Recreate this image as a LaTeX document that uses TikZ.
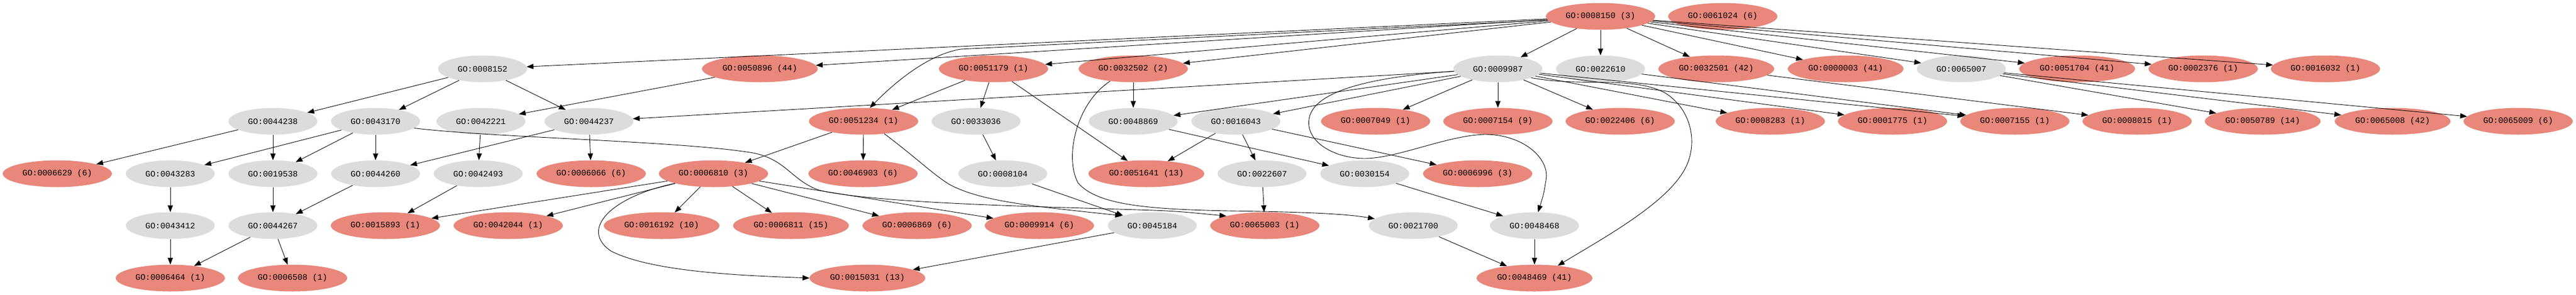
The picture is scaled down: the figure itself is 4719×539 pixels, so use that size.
\documentclass[tikz,border=0pt]{standalone}
\usepackage{fontspec}
\setmonofont{Liberation Mono}
\usetikzlibrary{shapes.geometric,arrows.meta}
\definecolor{gofill}{RGB}{220,220,220}
\definecolor{sigfill}{RGB}{232,135,122}
\begin{document}
\begin{tikzpicture}[x=1pt,y=-1pt,
  base/.style={ellipse,inner sep=0pt,minimum height=49pt,draw=none,
    font=\ttfamily\fontsize{15.2}{18}\selectfont},
  gnode/.style={base,fill=gofill,minimum width=163pt},
  snode/.style={base,fill=sigfill,minimum width=200pt},
  wnode/.style={base,fill=sigfill,minimum width=212pt},
  edge/.style={draw=black,line width=0.9pt,-{Triangle[length=12.5pt,width=9.5pt]}}]
\useasboundingbox (0,0) rectangle (4719,539);
% row 0
\node[snode] (n0008150) at (2932,30) {GO:0008150 (3)};
\node[snode] (n0061024) at (3156,30) {GO:0061024 (6)};
% row 1
\node[gnode] (n0008152) at (884,126) {GO:0008152};
\node[wnode] (n0050896) at (1392,126) {GO:0050896 (44)};
\node[snode] (n0051179) at (1820,126) {GO:0051179 (1)};
\node[snode] (n0032502) at (2076,126) {GO:0032502 (2)};
\node[gnode] (n0009987) at (2744,126) {GO:0009987};
\node[gnode] (n0022610) at (2932,126) {GO:0022610};
\node[wnode] (n0032501) at (3144,126) {GO:0032501 (42)};
\node[wnode] (n0000003) at (3381,126) {GO:0000003 (41)};
\node[gnode] (n0065007) at (3593,126) {GO:0065007};
\node[wnode] (n0051704) at (3805,126) {GO:0051704 (41)};
\node[snode] (n0002376) at (4036,126) {GO:0002376 (1)};
\node[snode] (n0016032) at (4260,126) {GO:0016032 (1)};
% row 2
\node[gnode] (n0044238) at (500,222) {GO:0044238};
\node[gnode] (n0043170) at (688,222) {GO:0043170};
\node[gnode] (n0042221) at (881,222) {GO:0042221};
\node[gnode] (n0044237) at (1079,222) {GO:0044237};
\node[snode] (n0051234) at (1582,222) {GO:0051234 (1)};
\node[gnode] (n0033036) at (1788,222) {GO:0033036};
\node[gnode] (n0048869) at (2076,222) {GO:0048869};
\node[gnode] (n0016043) at (2264,222) {GO:0016043};
\node[snode] (n0007049) at (2520,222) {GO:0007049 (1)};
\node[snode] (n0007154) at (2744,222) {GO:0007154 (9)};
\node[snode] (n0022406) at (2968,222) {GO:0022406 (6)};
\node[snode] (n0008283) at (3243,222) {GO:0008283 (1)};
\node[snode] (n0001775) at (3467,222) {GO:0001775 (1)};
\node[snode] (n0007155) at (3691,222) {GO:0007155 (1)};
\node[snode] (n0008015) at (3915,222) {GO:0008015 (1)};
\node[wnode] (n0050789) at (4145,222) {GO:0050789 (14)};
\node[wnode] (n0065008) at (4383,222) {GO:0065008 (42)};
\node[snode] (n0065009) at (4613,222) {GO:0065009 (6)};
% row 3
\node[snode] (n0006629) at (105,318) {GO:0006629 (6)};
\node[gnode] (n0043283) at (312,318) {GO:0043283};
\node[gnode] (n0019538) at (500,318) {GO:0019538};
\node[gnode] (n0044260) at (688,318) {GO:0044260};
\node[gnode] (n0042493) at (876,318) {GO:0042493};
\node[snode] (n0006066) at (1083,318) {GO:0006066 (6)};
\node[snode] (n0006810) at (1307,318) {GO:0006810 (3)};
\node[snode] (n0046903) at (1581,318) {GO:0046903 (6)};
\node[gnode] (n0008104) at (1837,318) {GO:0008104};
\node[wnode] (n0051641) at (2100,318) {GO:0051641 (13)};
\node[gnode] (n0022607) at (2312,318) {GO:0022607};
\node[gnode] (n0030154) at (2500,318) {GO:0030154};
\node[snode] (n0006996) at (2707,318) {GO:0006996 (3)};
% row 4
\node[gnode] (n0043412) at (312,413) {GO:0043412};
\node[gnode] (n0044267) at (500,413) {GO:0044267};
\node[snode] (n0015893) at (706,413) {GO:0015893 (1)};
\node[snode] (n0042044) at (931,413) {GO:0042044 (1)};
\node[wnode] (n0016192) at (1212,413) {GO:0016192 (10)};
\node[wnode] (n0006811) at (1449,413) {GO:0006811 (15)};
\node[snode] (n0006869) at (1680,413) {GO:0006869 (6)};
\node[snode] (n0009914) at (1904,413) {GO:0009914 (6)};
\node[gnode] (n0045184) at (2111,413) {GO:0045184};
\node[snode] (n0065003) at (2317,413) {GO:0065003 (1)};
\node[gnode] (n0021700) at (2589,413) {GO:0021700};
\node[gnode] (n0048468) at (2811,413) {GO:0048468};
% row 5
\node[snode] (n0006464) at (312,509) {GO:0006464 (1)};
\node[snode] (n0006508) at (536,509) {GO:0006508 (1)};
\node[wnode] (n0015031) at (1589,509) {GO:0015031 (13)};
\node[wnode] (n0048469) at (2811,509) {GO:0048469 (41)};

% edges from root
\draw[edge] (n0008150) -- (n0008152);
\draw[edge] (n0008150) -- (n0050896);
\draw[edge] (n0008150.184) -- (1760,90) .. controls (1700,100) and (1640,150) .. (n0051234.65);
\draw[edge] (n0008150) -- (n0051179);
\draw[edge] (n0008150) -- (n0032502);
\draw[edge] (n0008150) -- (n0009987);
\draw[edge] (n0008150) -- (n0022610);
\draw[edge] (n0008150) -- (n0032501);
\draw[edge] (n0008150) -- (n0000003);
\draw[edge] (n0008150) -- (n0065007);
\draw[edge] (n0008150) -- (n0051704);
\draw[edge] (n0008150) -- (n0002376);
\draw[edge] (n0008150) -- (n0016032);
% row 1 sources
\draw[edge] (n0008152) -- (n0044238);
\draw[edge] (n0008152) -- (n0043170);
\draw[edge] (n0008152) -- (n0044237);
\draw[edge] (n0050896) -- (n0042221);
\draw[edge] (n0051179) -- (n0051234);
\draw[edge] (n0051179) -- (n0033036);
\draw[edge] (n0051179) -- (n0051641);
\draw[edge] (n0032502) -- (n0048869);
\draw[edge] (n0032502.208) .. controls (1970,190) and (1950,290) .. (1975,335)
  .. controls (2010,375) and (2100,383) .. (2250,386)
  .. controls (2400,388) and (2470,392) .. (n0021700.170);
\draw[edge] (n0009987) -- (n0044237);
\draw[edge] (n0009987) -- (n0048869);
\draw[edge] (n0009987) -- (n0016043);
\draw[edge] (n0009987) -- (n0007049);
\draw[edge] (n0009987) -- (n0007154);
\draw[edge] (n0009987) -- (n0022406);
\draw[edge] (n0009987) -- (n0008283);
\draw[edge] (n0009987) -- (n0001775);
\draw[edge] (n0009987) -- (n0007155);
\draw[edge] (n0009987.183) .. controls (2560,138) and (2420,155) .. (2400,210)
  .. controls (2385,255) and (2440,290) .. (2500,290)
  .. controls (2560,290) and (2650,248) .. (2720,246)
  .. controls (2790,246) and (2840,290) .. (2832,330)
  .. controls (2828,355) .. (n0048468.75);
\draw[edge] (n0009987.-15) .. controls (2900,160) and (2990,138) .. (3050,170)
  .. controls (3100,200) and (3115,270) .. (3080,320)
  .. controls (3040,380) and (2930,440) .. (n0048469.28);
\draw[edge] (n0022610) -- (n0007155);
\draw[edge] (n0032501) -- (n0008015);
\draw[edge] (n0065007) -- (n0050789);
\draw[edge] (n0065007) -- (n0065008);
\draw[edge] (n0065007) -- (n0065009);
% row 2 sources
\draw[edge] (n0044238) -- (n0006629);
\draw[edge] (n0044238) -- (n0019538);
\draw[edge] (n0043170) -- (n0043283);
\draw[edge] (n0043170) -- (n0019538);
\draw[edge] (n0043170) -- (n0044260);
\draw[edge] (n0043170.-10) .. controls (900,252) and (1250,258) .. (1380,280)
  .. controls (1440,292) and (1450,330) .. (1500,348)
  .. controls (1600,372) and (1900,378) .. (2050,383)
  .. controls (2150,386) .. (n0065003.166);
\draw[edge] (n0042221) -- (n0042493);
\draw[edge] (n0044237) -- (n0006066);
\draw[edge] (n0044237) -- (n0044260);
\draw[edge] (n0051234) -- (n0046903);
\draw[edge] (n0051234) -- (n0006810);
\draw[edge] (n0051234.-31) .. controls (1680,290) and (1710,320) .. (1740,338)
  .. controls (1800,370) and (1900,378) .. (n0045184.162);
\draw[edge] (n0033036) -- (n0008104);
\draw[edge] (n0048869) -- (n0030154);
\draw[edge] (n0016043) -- (n0051641);
\draw[edge] (n0016043) -- (n0022607);
\draw[edge] (n0016043) -- (n0006996);
% row 3 sources
\draw[edge] (n0043283) -- (n0043412);
\draw[edge] (n0019538) -- (n0044267);
\draw[edge] (n0044260) -- (n0044267);
\draw[edge] (n0042493) -- (n0015893);
\draw[edge] (n0006810) -- (n0015893);
\draw[edge] (n0006810) -- (n0042044);
\draw[edge] (n0006810) -- (n0016192);
\draw[edge] (n0006810) -- (n0006811);
\draw[edge] (n0006810) -- (n0006869);
\draw[edge] (n0006810) -- (n0009914);
\draw[edge] (n0006810.194) .. controls (1120,360) and (1060,420) .. (1120,460)
  .. controls (1200,500) and (1380,505) .. (n0015031.west);
\draw[edge] (n0008104) -- (n0045184);
\draw[edge] (n0022607) -- (n0065003);
\draw[edge] (n0030154) -- (n0048468);
% row 4 sources
\draw[edge] (n0043412) -- (n0006464);
\draw[edge] (n0044267) -- (n0006464);
\draw[edge] (n0044267) -- (n0006508);
\draw[edge] (n0045184) -- (n0015031);
\draw[edge] (n0021700) -- (n0048469);
\draw[edge] (n0048468) -- (n0048469);
\end{tikzpicture}
\end{document}
